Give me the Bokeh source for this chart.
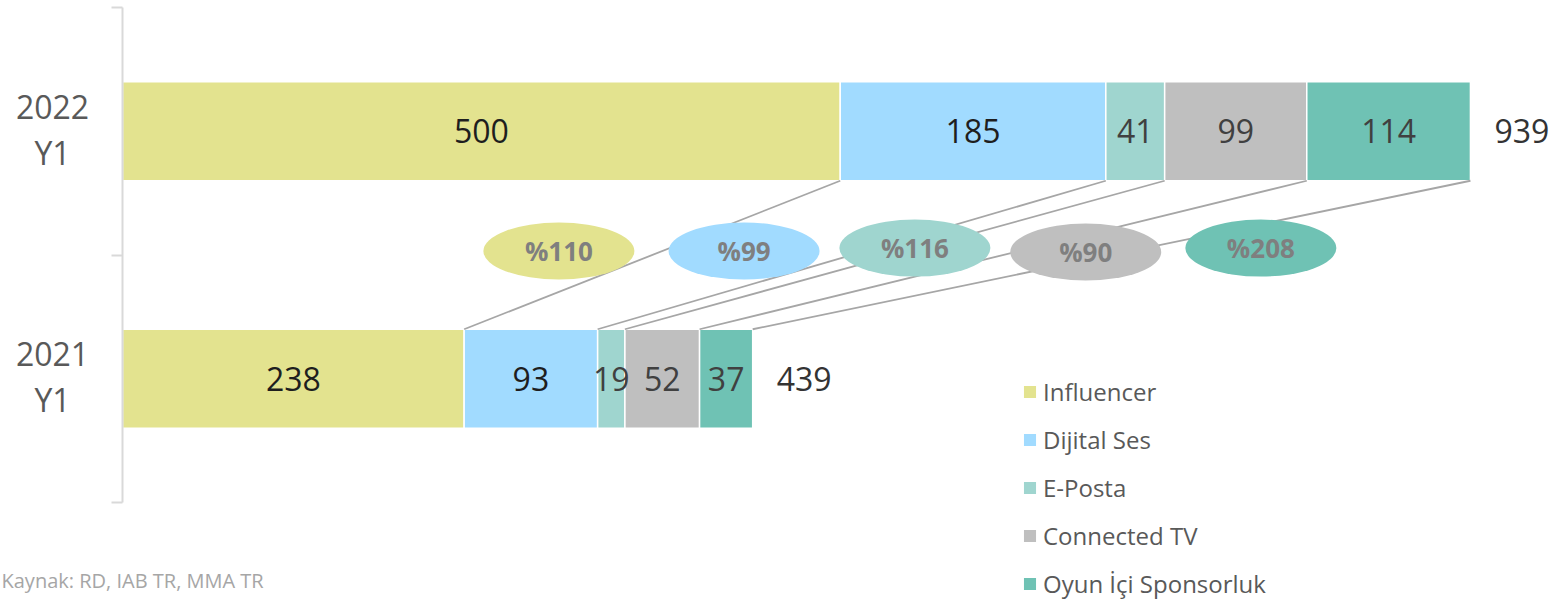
from bokeh.plotting import figure
from bokeh.models import ColumnDataSource, Range1d, FixedTicker, Legend, LegendItem, Label
from bokeh.core.properties import value
from bokeh.embed import file_html
from bokeh.resources import INLINE

# ---- data ----
periods = ["2021\nY1", "2022\nY1"]
series = ["Influencer", "Dijital Ses", "E-Posta", "Connected TV", "Oyun İçi Sponsorluk"]
influencer = [238, 500]
dijital_ses = [93, 185]
e_posta = [19, 41]
connected_tv = [52, 99]
oyun_ici = [37, 114]
growth_pct = [110, 99, 116, 90, 208]
source_note = "Kaynak: RD, IAB TR, MMA TR"

# ---- styles / layout ----
colors = ["#e3e38f", "#a1dbff", "#9fd5cf", "#bfbfbf", "#6fc2b4"]
value_colors = ["#1e1e1e", "#1e1e1e", "#404040", "#404040", "#404040"]
FONT = "Open Sans"
W, H = 1556, 602
y_pos = [0.5, 1.5]
bar_h = 0.4
bubble_x = [304, 433, 552, 671, 793]
bubble_y = [1.016, 1.016, 1.028, 1.012, 1.028]

values = [influencer, dijital_ses, e_posta, connected_tv, oyun_ici]
data = {"y": y_pos}
for name, vals in zip(series, values):
    data[name] = vals
src = ColumnDataSource(data)

px_per_unit = 1.4355
x0_px = 122
y_px_per_unit = 247.5
top_px = 7

p = figure(width=W, height=H, output_backend="svg", toolbar_location=None,
           x_range=Range1d(-x0_px / px_per_unit, (W - x0_px) / px_per_unit),
           y_range=Range1d(-(H - top_px - 2 * y_px_per_unit) / y_px_per_unit, 2 + top_px / y_px_per_unit),
           x_axis_location=None, min_border_left=0, min_border_right=0,
           min_border_top=0, min_border_bottom=0, outline_line_color=None)
p.xgrid.visible = False
p.ygrid.visible = False

renderers = p.hbar_stack(series, y="y", height=bar_h, color=colors, source=src,
                         line_color="white", line_width=1.5)

# connector lines between cumulative segment ends
n = len(series)
cum = [[0.0] * n for _ in range(2)]
for j in range(2):
    s = 0
    for i in range(n):
        s += values[i][j]
        cum[j][i] = s
conn = ColumnDataSource(dict(
    x0=[cum[1][i] for i in range(n)], y0=[y_pos[1] - bar_h / 2] * n,
    x1=[cum[0][i] for i in range(n)], y1=[y_pos[0] + bar_h / 2] * n))
p.segment(x0="x0", y0="y0", x1="x1", y1="y1", source=conn,
          line_color="#a6a6a6", line_width=1.8)

# value labels inside segments
lx, ly, lt, lc = [], [], [], []
for j in range(2):
    start = 0
    for i in range(n):
        v = values[i][j]
        lx.append(start + v / 2)
        ly.append(y_pos[j])
        lt.append(str(v))
        lc.append(value_colors[i])
        start += v
p.text(x="x", y="y", text="t", text_color="c", source=ColumnDataSource(dict(x=lx, y=ly, t=lt, c=lc)),
       text_align="center", text_baseline="middle", text_font=value(FONT), text_font_size="32px")

# totals
totals = [sum(values[i][j] for i in range(n)) for j in range(2)]
p.text(x=totals, y=y_pos, text=[str(t) for t in totals], x_offset=24,
       text_align="left", text_baseline="middle", text_font=value(FONT),
       text_font_size="32px", text_color="#333333")

# growth bubbles
p.ellipse(x=bubble_x, y=bubble_y, width=151, height=57, width_units="screen",
          height_units="screen", fill_color=colors, line_color=None)
p.text(x=bubble_x, y=bubble_y, text=["%" + str(g) for g in growth_pct],
       text_align="center", text_baseline="middle", text_font=value(FONT),
       text_font_size="26px", text_font_style="bold", text_color="#7f7f7f")

# category labels (centered lines), left of the axis
p.text(x=[0, 0], y=y_pos, text=periods, x_offset=-70, y_offset=-2,
       text_align="center", text_baseline="middle", text_font=value(FONT),
       text_font_size="32px", text_color="#595959", text_line_height=1.07)

# y axis drawn at x = 0 with boundary ticks
ax = p.yaxis[0]
ax.fixed_location = 0
ax.ticker = FixedTicker(ticks=[0, 1, 2], minor_ticks=[])
ax.major_label_overrides = {0: "", 1: "", 2: ""}
ax.bounds = (0, 2)
ax.axis_line_color = "#d9d9d9"
ax.axis_line_width = 2
ax.major_tick_in = 0
ax.major_tick_out = 11
ax.major_tick_line_color = "#d9d9d9"
ax.major_tick_line_width = 2
ax.minor_tick_line_color = None

legend = Legend(items=[LegendItem(label=s, renderers=[r]) for s, r in zip(series, renderers)],
                location=(1021, 2), orientation="vertical",
                label_text_font=FONT, label_text_font_size="24px", label_text_color="#595959",
                glyph_width=17, glyph_height=17, label_height=30, spacing=15,
                padding=0, margin=0, label_standoff=5,
                border_line_color=None, background_fill_alpha=0)
p.add_layout(legend)

p.add_layout(Label(x=1, y=22, x_units="screen", y_units="screen", text=source_note,
                   text_font=FONT, text_font_size="20px", text_color="#a6a6a6",
                   text_baseline="middle"))

open("out.html", "w").write(file_html(p, INLINE))
